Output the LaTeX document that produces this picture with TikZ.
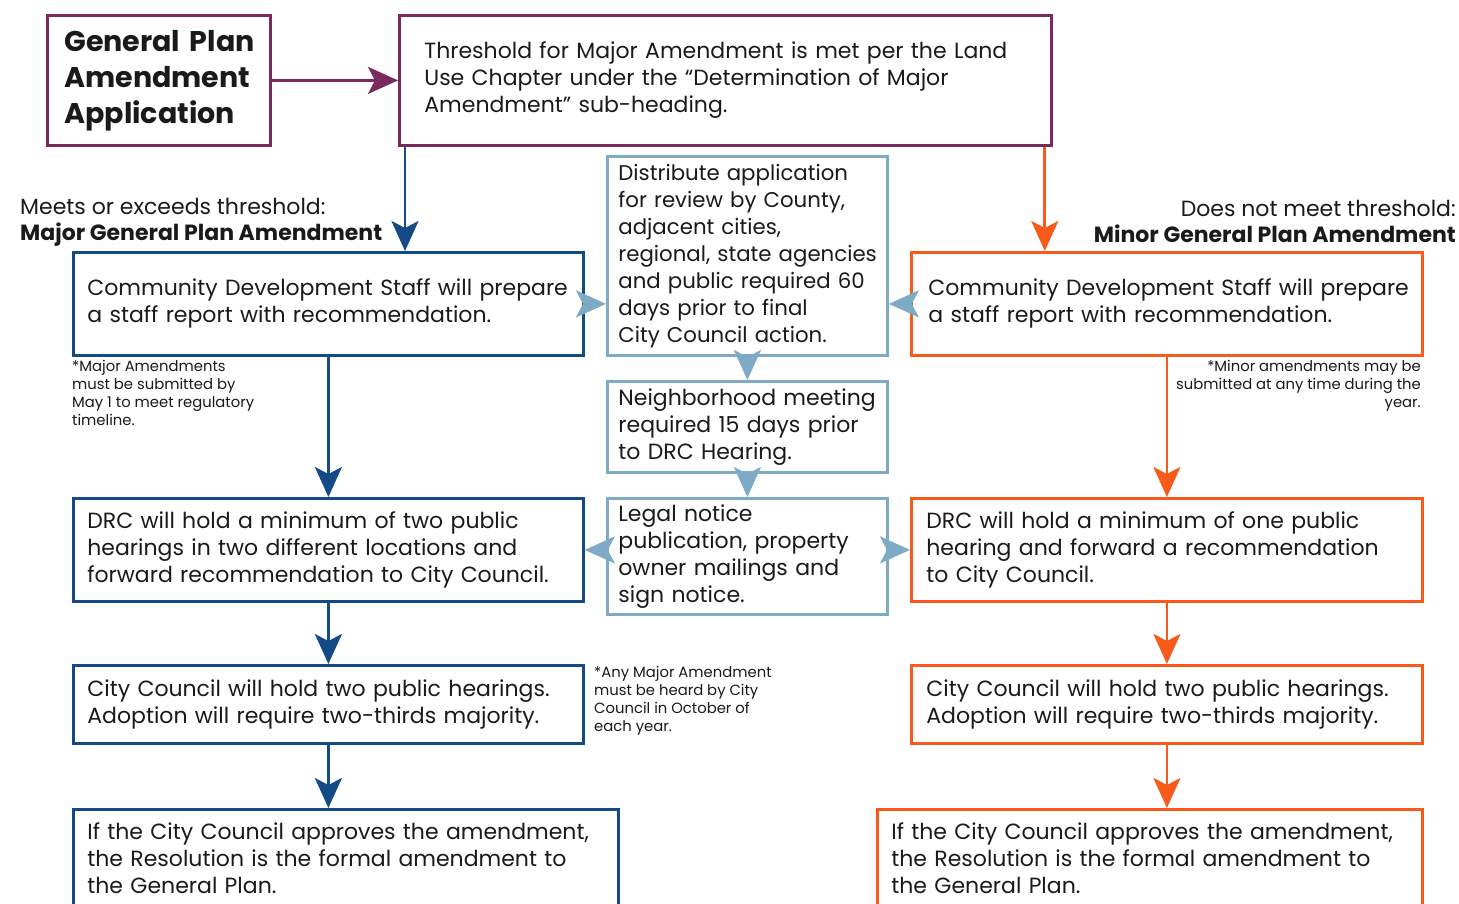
\documentclass[tikz,border=0pt]{standalone}
\usepackage{fontspec}
\setmainfont{Poppins}
\usetikzlibrary{arrows.meta}
\definecolor{gpurple}{HTML}{7B2A5E}
\definecolor{gnavy}{HTML}{144B87}
\definecolor{gorange}{HTML}{F85A1B}
\definecolor{glight}{HTML}{7EAAC5}
\definecolor{gtext}{HTML}{1A1A1A}
\newcommand{\lines}[1]{\begin{tabular}{@{}l@{}}#1\end{tabular}}
\begin{document}
\begin{tikzpicture}[x=1pt,y=-1pt,
  box/.style={draw, line width=2.8pt, anchor=north west, align=left, inner ysep=0pt, text=gtext,
    font=\fontsize{22}{27}\selectfont},
  purplebox/.style={box, draw=gpurple},
  navybox/.style={box, draw=gnavy},
  orangebox/.style={box, draw=gorange},
  lightbox/.style={box, draw=glight},
  conn/.style={line width=2.8pt, -{Stealth[length=30pt,width=27pt,inset=7pt]}},
  note/.style={inner sep=0pt, text=gtext, font=\fontsize{14.8}{18}\selectfont},
  label/.style={inner sep=0pt, text=gtext, font=\fontsize{22}{26.5}\selectfont}]
\clip (0,0) rectangle (1459,903);
\fill[white] (0,0) rectangle (1459,903);

\node[purplebox, minimum width=223pt, minimum height=130pt, text width=189pt, inner xsep=17pt,
  font=\fontsize{28.5}{36}\selectfont\bfseries] (A) at (46,14) {\lines{General Plan\\Amendment\\Application}};
\node[purplebox, minimum width=652pt, minimum height=130pt, text width=602pt, inner xsep=25pt] (B) at (398,14)
  {\lines{Threshold for Major Amendment is met per the Land\\Use Chapter under the “Determination of Major\\Amendment” sub-heading.}};

\node[navybox, minimum width=510pt, minimum height=103pt, text width=482pt, inner xsep=14pt] (C) at (72,251)
  {\lines{Community Development Staff will prepare\\a staff report with recommendation.}};
\node[lightbox, minimum width=280pt, minimum height=199pt, text width=258pt, inner xsep=11pt,
  font=\fontsize{21.3}{27}\selectfont] (D) at (606,155)
  {\lines{Distribute application\\for review by County,\\adjacent cities,\\regional, state agencies\\and public required 60\\days prior to final\\City Council action.}};
\node[orangebox, minimum width=511pt, minimum height=103pt, text width=477pt, inner xsep=17pt] (E) at (910,251)
  {\lines{Community Development Staff will prepare\\a staff report with recommendation.}};

\node[lightbox, minimum width=280pt, minimum height=91pt, text width=258pt, inner xsep=11pt] (F) at (606,380)
  {\lines{Neighborhood meeting\\required 15 days prior\\to DRC Hearing.}};
\node[lightbox, minimum width=280pt, minimum height=116pt, text width=258pt, inner xsep=11pt] (G) at (606,497)
  {\lines{Legal notice\\publication, property\\owner mailings and\\sign notice.}};

\node[navybox, minimum width=510pt, minimum height=103pt, text width=482pt, inner xsep=14pt] (H) at (72,497)
  {\lines{DRC will hold a minimum of two public\\hearings in two different locations and\\forward recommendation to City Council.}};
\node[orangebox, minimum width=511pt, minimum height=103pt, text width=481pt, inner xsep=15pt] (I) at (910,497)
  {\lines{DRC will hold a minimum of one public\\hearing and forward a recommendation\\to City Council.}};

\node[navybox, minimum width=510pt, minimum height=78pt, text width=482pt, inner xsep=14pt] (J) at (72,664)
  {\lines{City Council will hold two public hearings.\\Adoption will require two-thirds majority.}};
\node[orangebox, minimum width=511pt, minimum height=78pt, text width=481pt, inner xsep=15pt] (K) at (910,664)
  {\lines{City Council will hold two public hearings.\\Adoption will require two-thirds majority.}};

\node[navybox, minimum width=545pt, minimum height=104pt, text width=517pt, inner xsep=14pt] (L) at (72,808)
  {\lines{If the City Council approves the amendment,\\the Resolution is the formal amendment to\\the General Plan.}};
\node[orangebox, minimum width=545pt, minimum height=104pt, text width=517pt, inner xsep=14pt] (M) at (876,808)
  {\lines{If the City Council approves the amendment,\\the Resolution is the formal amendment to\\the General Plan.}};

% labels and notes
\node[label, anchor=north west, align=left] (majl) at (20,198)
  {Meets or exceeds threshold:\\\textbf{Major General Plan Amendment}};
\node[label, anchor=north east, align=right] (minl) at (1456,200)
  {Does not meet threshold:\\\textbf{Minor General Plan Amendment}};
\node[note, anchor=north west, align=left] (n1) at (72,360)
  {*Major Amendments\\must be submitted by\\May 1 to meet regulatory\\timeline.};
\node[note, anchor=north east, align=right] (n2) at (1421,360)
  {*Minor amendments may be\\submitted at any time during the\\year.};
\node[note, anchor=north west, align=left] (n3) at (594,666)
  {*Any Major Amendment\\must be heard by City\\Council in October of\\each year.};

% connectors
\coordinate (bl) at ([xshift=7pt]B.south west);
\coordinate (br) at ([xshift=-8pt]B.south east);
\draw[conn, gpurple] (A.east) -- (A.east -| B.west);
\draw[conn, gnavy] (bl) -- (bl |- C.north);
\draw[conn, gorange] (br) -- (br |- E.north);
\draw[conn, gnavy] (C.south) -- (H.north);
\draw[conn, gnavy] (H.south) -- (J.north);
\draw[conn, gnavy] (J.south) -- (J.south |- L.north);
\draw[conn, gorange] (E.south) -- (I.north);
\draw[conn, gorange] (I.south) -- (K.north);
\draw[conn, gorange] (K.south) -- (K.south |- M.north);
\draw[conn, glight] (C.east) -- (C.east -| D.west);
\draw[conn, glight] (E.west) -- (E.west -| D.east);
\draw[conn, glight] (D.south) -- (F.north);
\draw[conn, glight] (F.south) -- (G.north);
\draw[conn, glight] (H.east -| G.west) -- (H.east);
\draw[conn, glight] (I.west -| G.east) -- (I.west);
\end{tikzpicture}
\end{document}
